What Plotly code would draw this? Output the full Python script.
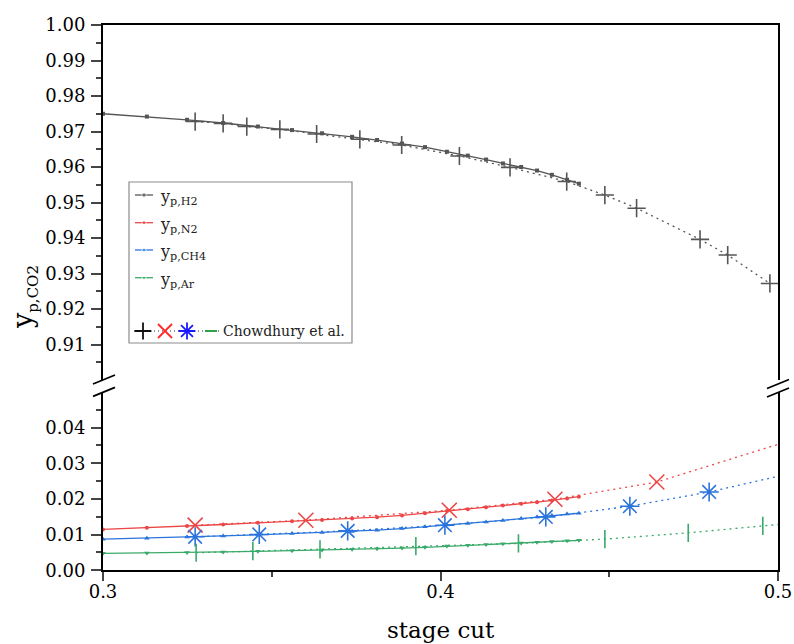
import plotly.graph_objects as go

# ---- simulated permeate compositions (solid lines) ----
stage_cut = [0.3000, 0.3130, 0.3249, 0.3356, 0.3459, 0.3560, 0.3649, 0.3738, 0.3812, 0.3886,
             0.3954, 0.4019, 0.4081, 0.4135, 0.4185, 0.4239, 0.4286, 0.4330, 0.4375, 0.4410]
yp_h2 = [0.9750, 0.9742, 0.9733, 0.9724, 0.9714, 0.9704, 0.9695, 0.9685, 0.9676, 0.9666,
         0.9656, 0.9643, 0.9632, 0.9621, 0.9610, 0.9600, 0.9590, 0.9578, 0.9564, 0.9553]
yp_n2 = [0.01145, 0.01190, 0.01240, 0.01285, 0.01330, 0.01375, 0.01410, 0.01450, 0.01490, 0.01540,
         0.01600, 0.01660, 0.01715, 0.01765, 0.01815, 0.01865, 0.01910, 0.01960, 0.02015, 0.02065]
yp_ch4 = [0.00874, 0.00902, 0.00935, 0.00965, 0.00995, 0.01030, 0.01060, 0.01090, 0.01125, 0.01170,
          0.01220, 0.01270, 0.01310, 0.01355, 0.01400, 0.01450, 0.01495, 0.01540, 0.01580, 0.01600]
yp_ar = [0.00475, 0.00485, 0.00500, 0.00515, 0.00532, 0.00550, 0.00568, 0.00588, 0.00603, 0.00622,
         0.00645, 0.00680, 0.00702, 0.00722, 0.00745, 0.00768, 0.00788, 0.00808, 0.00826, 0.00840]

# ---- Chowdhury et al. (dotted lines with symbols) ----
ch_h2_x = [0.3273, 0.3356, 0.3426, 0.3524, 0.3633, 0.3761, 0.3885, 0.4056, 0.4206, 0.4374,
           0.4487, 0.4581, 0.4769, 0.4851, 0.4976]
ch_h2_y = [0.9728, 0.9723, 0.9714, 0.9706, 0.9693, 0.9678, 0.9662, 0.9631, 0.9599, 0.9559,
           0.9521, 0.9484, 0.9396, 0.9352, 0.9272]
ch_n2_x = [0.3273, 0.3601, 0.4026, 0.4339, 0.4641, 0.5030]
ch_n2_y = [0.01265, 0.01405, 0.01684, 0.01992, 0.02475, 0.0362]
ch_ch4_x = [0.3273, 0.3463, 0.3725, 0.4013, 0.4312, 0.4561, 0.4796, 0.5030]
ch_ch4_y = [0.00939, 0.01006, 0.01106, 0.01265, 0.01497, 0.01796, 0.02196, 0.0270]
ch_ar_x = [0.3276, 0.3444, 0.3643, 0.3927, 0.4231, 0.4487, 0.4734, 0.4955, 0.5060]
ch_ar_y = [0.00492, 0.00539, 0.00587, 0.00679, 0.00754, 0.00874, 0.01050, 0.01246, 0.0133]

# ---- axis ticks ----
x_ticks = [0.3, 0.4, 0.5]
x_minor = [0.35, 0.45]
upper_ticks = [0.91, 0.92, 0.93, 0.94, 0.95, 0.96, 0.97, 0.98, 0.99, 1.00]
upper_minor = [0.905, 0.915, 0.925, 0.935, 0.945, 0.955, 0.965, 0.975, 0.985, 0.995]
lower_ticks = [0.00, 0.01, 0.02, 0.03, 0.04]
lower_minor = [0.005, 0.015, 0.025, 0.035, 0.045]

legend_labels = ["y<sub>p,H2</sub>", "y<sub>p,N2</sub>", "y<sub>p,CH4</sub>", "y<sub>p,Ar</sub>"]
ref_label = "Chowdhury et al."

C_H2, C_N2, C_CH4, C_AR = "#555555", "#ec4646", "#2a74dc", "#3aaa6a"
FONT = "DejaVu Serif"
W, H = 794, 644


def px(x):
    return x / W


def py(y):
    return 1 - y / H


fig = go.Figure()

# simulated curves
sim = [(yp_h2, C_H2, "square", 4, "x2", "y2"),
       (yp_n2, C_N2, "circle", 4, "x", "y"),
       (yp_ch4, C_CH4, "triangle-up", 5, "x", "y"),
       (yp_ar, C_AR, "triangle-down", 5, "x", "y")]
for vals, col, sym, sz, xa, ya in sim:
    fig.add_trace(go.Scatter(x=stage_cut, y=vals, mode="lines+markers", xaxis=xa, yaxis=ya,
                             line=dict(color=col, width=1.3),
                             marker=dict(symbol=sym, size=sz, color=col),
                             showlegend=False, hoverinfo="skip"))

# literature data
lit = [(ch_h2_x, ch_h2_y, C_H2, "cross-thin", 13, "x2", "y2"),
       (ch_n2_x, ch_n2_y, C_N2, "x-thin", 15, "x", "y"),
       (ch_ch4_x, ch_ch4_y, C_CH4, "asterisk", 16, "x", "y"),
       (ch_ar_x, ch_ar_y, C_AR, "line-ns", 13, "x", "y")]
for xs, ys, col, sym, sz, xa, ya in lit:
    fig.add_trace(go.Scatter(x=xs, y=ys, mode="lines+markers", xaxis=xa, yaxis=ya,
                             line=dict(color=col, width=1.3, dash="2px,4px"),
                             marker=dict(symbol=sym, size=sz, color=col,
                                         line=dict(color=col, width=1.6)),
                             cliponaxis=True, showlegend=False, hoverinfo="skip"))

# ---- legend drawn on a full-page overlay axis (pixel units) ----
leg_rows = [195, 222.7, 250, 277.7]
leg_styles = [(C_H2, "square", 4), (C_N2, "circle", 4), (C_CH4, "triangle-up", 5), (C_AR, "triangle-down", 5)]
for yrow, (col, sym, sz) in zip(leg_rows, leg_styles):
    fig.add_trace(go.Scatter(x=[135, 144, 153], y=[yrow] * 3, mode="lines+markers",
                             xaxis="x3", yaxis="y3", line=dict(color=col, width=1.3),
                             marker=dict(symbol=sym, size=[0, sz, 0], color=col),
                             showlegend=False, hoverinfo="skip"))
ry = 331
fig.add_trace(go.Scatter(x=[134, 222], y=[ry, ry], mode="lines", xaxis="x3", yaxis="y3",
                         line=dict(color="#222222", width=1.2, dash="1px,3px"),
                         showlegend=False, hoverinfo="skip"))
fig.add_trace(go.Scatter(x=[205, 217], y=[ry, ry], mode="lines", xaxis="x3", yaxis="y3",
                         line=dict(color="#1f9a3a", width=1.8),
                         showlegend=False, hoverinfo="skip"))
for xm, col, sym, sz in [(143, "#111111", "cross-thin", 12), (165, "#ff2a2a", "x-thin", 14),
                         (187, "#1a1aff", "asterisk", 14)]:
    fig.add_trace(go.Scatter(x=[xm], y=[ry], mode="markers", xaxis="x3", yaxis="y3",
                             marker=dict(symbol=sym, size=sz, color=col, line=dict(color=col, width=1.8)),
                             showlegend=False, hoverinfo="skip"))

annotations = []
for yrow, lab in zip(leg_rows, legend_labels):
    annotations.append(dict(x=px(158), y=py(yrow + 3), xref="paper", yref="paper",
                            xanchor="left", yanchor="middle", showarrow=False,
                            text=lab, font=dict(family=FONT, size=16, color="#222222")))
annotations.append(dict(x=px(221), y=py(ry), xref="paper", yref="paper", xanchor="left",
                        yanchor="middle", showarrow=False, text=ref_label,
                        font=dict(family=FONT, size=14, color="#222222")))
# axis titles
annotations.append(dict(x=px(440.5), y=py(630), xref="paper", yref="paper", xanchor="center",
                        yanchor="middle", showarrow=False, text="stage cut",
                        font=dict(family=FONT, size=23, color="black")))
annotations.append(dict(x=px(25), y=py(297), xref="paper", yref="paper", xanchor="center",
                        yanchor="middle", showarrow=False, textangle=-90,
                        text="y<sub><span style='font-size:15px'>p,CO2</span></sub>",
                        font=dict(family=FONT, size=27, color="black")))

shapes = []
# legend frame
shapes.append(dict(type="rect", xref="paper", yref="paper", x0=px(129), x1=px(352),
                   y0=py(343), y1=py(182), line=dict(color="#8c8c8c", width=1.2),
                   fillcolor="white", layer="below"))
# axis break marks
for (cx, cy) in [(104, 379.5), (104, 391.8), (778, 384), (778, 392.5)]:
    shapes.append(dict(type="line", xref="paper", yref="paper",
                       x0=px(cx - 11), y0=py(cy + 4.5), x1=px(cx + 11), y1=py(cy - 4.5),
                       line=dict(color="black", width=1.8)))

x_dom = [px(103), px(778)]
tick_font = dict(family=FONT, size=18, color="black")

fig.update_layout(
    width=W, height=H, margin=dict(l=0, r=0, t=0, b=0, pad=0, autoexpand=False),
    paper_bgcolor="white", plot_bgcolor="rgba(0,0,0,0)",
    showlegend=False,
    xaxis=dict(domain=x_dom, anchor="y", range=[0.3, 0.5], tickvals=x_ticks,
               ticktext=["0.3", "0.4", "0.5"], ticks="outside", ticklen=9, tickwidth=1.8,
               minor=dict(tickvals=x_minor, ticks="outside", ticklen=5, tickwidth=1.8),
               ticklabelstandoff=-5,
               showline=True, linecolor="black", linewidth=2, mirror=False, automargin=False,
               showgrid=False, zeroline=False, tickfont=tick_font),
    yaxis=dict(domain=[py(570.3), py(392)], anchor="x", range=[0, 0.05],
               tickvals=lower_ticks, tickformat=".2f", ticks="outside", ticklen=10, tickwidth=1.8,
               minor=dict(tickvals=lower_minor, ticks="outside", ticklen=5, tickwidth=1.8),
               ticklabelstandoff=2,
               showline=True, linecolor="black", linewidth=2, mirror=True, automargin=False,
               showgrid=False, zeroline=False, tickfont=tick_font),
    xaxis2=dict(domain=x_dom, anchor="y2", matches="x", range=[0.3, 0.5], side="top",
                showticklabels=False, ticks="", showline=True, linecolor="black", automargin=False,
                linewidth=2, mirror=False, showgrid=False, zeroline=False),
    yaxis2=dict(domain=[py(380), py(25)], anchor="x2", range=[0.9, 1.0],
                tickvals=upper_ticks, tickformat=".2f", ticks="outside", ticklen=10, tickwidth=1.8,
                minor=dict(tickvals=upper_minor, ticks="outside", ticklen=5, tickwidth=1.8),
                ticklabelstandoff=2,
                showline=True, linecolor="black", linewidth=2, mirror=True, automargin=False,
                showgrid=False, zeroline=False, tickfont=tick_font),
    xaxis3=dict(domain=[0, 1], anchor="y3", range=[0, W], visible=False, fixedrange=True,
                automargin=False),
    yaxis3=dict(domain=[0, 1], anchor="x3", range=[H, 0], visible=False, fixedrange=True,
                automargin=False),
    annotations=annotations, shapes=shapes,
)

fig.write_html("out.html")
